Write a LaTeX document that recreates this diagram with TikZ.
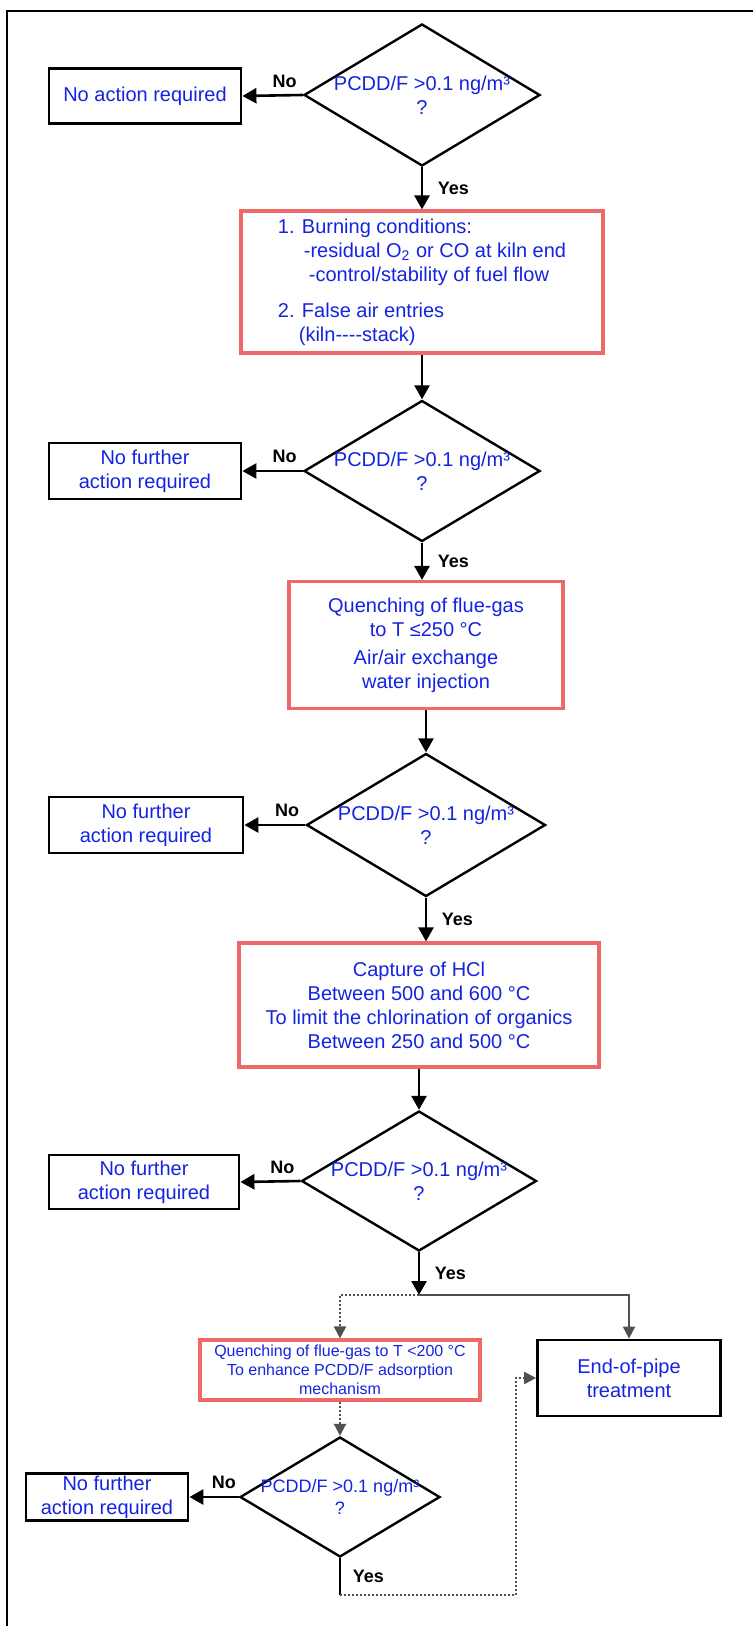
\documentclass[tikz,border=0pt]{standalone}
\usepackage{fontspec}
\setmainfont{Liberation Sans}
\usepackage{tikz}
\usetikzlibrary{shapes.geometric,arrows.meta}
\definecolor{txtblue}{RGB}{20,35,225}
\definecolor{boxred}{RGB}{240,105,105}
\definecolor{linegray}{RGB}{80,80,80}

\begin{document}
\begin{tikzpicture}[x=0.5pt, y=-0.5pt,
  endbox/.style={draw, line width=1.4pt, text=txtblue, align=center, inner sep=0pt},
  measure/.style={draw=boxred, line width=1.6pt, text=txtblue, align=center, inner sep=0pt},
  check/.style={diamond, draw, line width=1.2pt, text=txtblue, align=center, inner sep=0pt, inner xsep=-30pt},
  flow/.style={line width=1.3pt, -{Triangle[length=7pt,width=7.5pt]}},
  alt/.style={line width=1pt, linegray, dash pattern=on 1pt off 1pt, -{Triangle[length=6pt,width=6pt]}},
  direct/.style={line width=1pt, linegray, -{Triangle[length=6pt,width=6pt]}},
  answer/.style={font=\small\bfseries}]
  \useasboundingbox (0,0) rectangle (753,1626);
  \draw[line width=1.2pt] (7,1626) -- (7,11) -- (753,11);

  % first check
  \node[check, minimum width=118pt, minimum height=71pt] (d1) at (422,95) {PCDD/F >0.1 ng/m³\\?};
  \node[endbox, minimum width=96pt, minimum height=27.5pt] (n1) at (145,96) {No action required};
  \node[measure, minimum width=181pt, minimum height=71pt, align=left] (b1) at (422,282)
    {1. Burning conditions:\\
     \hspace*{13pt}-residual O\textsubscript{2} or CO at kiln end\\
     \hspace*{15.5pt}-control/stability of fuel flow\\[6pt]
     2. False air entries\\
     \hspace*{10.5pt}(kiln-{}-{}-{}-stack)};

  % second check
  \node[check, minimum width=118pt, minimum height=70.5pt] (d2) at (422,471) {PCDD/F >0.1 ng/m³\\?};
  \node[endbox, minimum width=96pt, minimum height=28pt] (n2) at (145,471) {No further\\action required};
  \node[measure, minimum width=137pt, minimum height=63.5pt] (b2) at (426,645)
    {Quenching of flue-gas\\to T ≤250 °C\\[2pt]Air/air exchange\\water injection};

  % third check
  \node[check, minimum width=119.5pt, minimum height=71.5pt] (d3) at (426,825) {PCDD/F >0.1 ng/m³\\?};
  \node[endbox, minimum width=97pt, minimum height=28pt] (n3) at (146,825) {No further\\action required};
  \node[measure, minimum width=180pt, minimum height=62pt] (b3) at (419,1005)
    {Capture of HCl\\Between 500 and 600 °C\\To limit the chlorination of organics\\Between 250 and 500 °C};

  % fourth check
  \node[check, minimum width=117.5pt, minimum height=70pt] (d4) at (419,1181) {PCDD/F >0.1 ng/m³\\?};
  \node[endbox, minimum width=95pt, minimum height=27pt] (n4) at (144,1182) {No further\\action required};
  \coordinate (split) at (419,1295);
  \node[measure, font=\footnotesize, minimum width=140pt, minimum height=30pt] (b4) at (340,1370)
    {Quenching of flue-gas to T <200 °C\\To enhance PCDD/F adsorption\\mechanism};
  \node[endbox, minimum width=91.5pt, minimum height=38pt] (eop) at (629,1378) {End-of-pipe\\treatment};

  % last check
  \node[check, font=\small, minimum width=100pt, minimum height=60pt] (d5) at (340,1497) {PCDD/F >0.1 ng/m³\\?};
  \node[endbox, minimum width=81pt, minimum height=23.5pt] (n5) at (107,1497) {No further\\action required};
  \coordinate (turn) at (340,1595);
  \coordinate (back) at (516,1595);

  \draw[flow] (d1.west) -- (n1.east) node[answer, pos=0.3, above] {No};
  \draw[flow] (d1.south) -- (b1.north) node[answer, midway, right=4pt] {Yes};
  \draw[flow] (b1.south) -- (d2.north);
  \draw[flow] (d2.west) -- (n2.east) node[answer, pos=0.3, above] {No};
  \draw[flow] (d2.south) -- (d2.south |- b2.north) node[answer, midway, right=4pt] {Yes};
  \draw[flow] (b2.south) -- (d3.north);
  \draw[flow] (d3.west) -- (n3.east) node[answer, pos=0.3, above] {No};
  \draw[flow] (d3.south) -- (d3.south |- b3.north) node[answer, midway, right=4pt] {Yes};
  \draw[flow] (b3.south) -- (d4.north);
  \draw[flow] (d4.west) -- (n4.east) node[answer, pos=0.3, above] {No};
  \draw[flow] (d4.south) -- (split) node[answer, midway, right=4pt] {Yes};
  \draw[alt] (split) -| (b4.north);
  \draw[direct] (split) -| (eop.north);
  \draw[alt] (b4.south) -- (d5.north);
  \draw[flow] (d5.west) -- (n5.east) node[answer, pos=0.3, above] {No};
  \draw[line width=1.3pt] (d5.south) -- (turn) node[answer, midway, right=2.5pt] {Yes};
  \draw[alt] (turn) -- (back) |- (eop.west);
\end{tikzpicture}
\end{document}
